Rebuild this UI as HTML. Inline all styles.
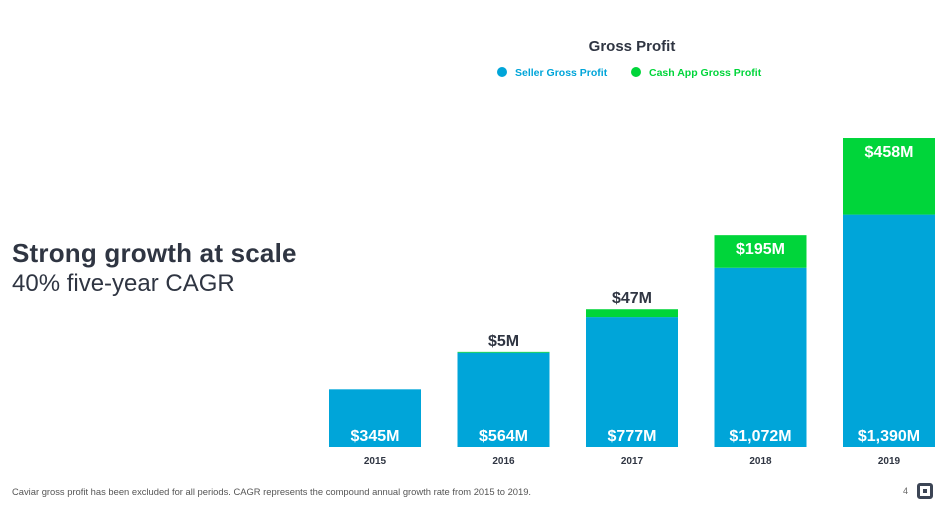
<!DOCTYPE html>
<html><head><meta charset="utf-8"><style>
body{margin:0;width:945px;height:516px;background:#fff;font-family:"Liberation Sans",sans-serif;overflow:hidden;position:relative}
.t{position:absolute;white-space:nowrap}
</style></head><body>
<div class="t" style="left:12px;top:238px;font-size:26px;letter-spacing:0.2px;font-weight:bold;color:#2f3542">Strong growth at scale</div>
<div class="t" style="left:12px;top:270px;font-size:24px;color:#2f3542">40% five-year CAGR</div>
<div class="t" style="left:12px;top:486px;font-size:9.4px;color:#555">Caviar gross profit has been excluded for all periods. CAGR represents the compound annual growth rate from 2015 to 2019.</div>
<div class="t" style="left:903px;top:486px;font-size:9px;color:#666">4</div>
<div style="position:absolute;left:917px;top:483px;width:10px;height:10px;border:3px solid #3c4555;border-radius:3px"><div style="position:absolute;left:3px;top:3px;width:4px;height:4px;background:#3c4555"></div></div>
<svg id="c" width="945" height="516" style="position:absolute;left:0;top:0">
<text x="632" y="51" text-anchor="middle" font-size="15" font-weight="bold" fill="#2f3542">Gross Profit</text>
<g><circle cx="502" cy="72" r="5" fill="#00a5d9"/><text x="515" y="76" font-size="10.5" font-weight="bold" fill="#00a5d9">Seller Gross Profit</text></g>
<g><circle cx="636" cy="72" r="5" fill="#00d53a"/><text x="649" y="76" font-size="10.5" font-weight="bold" fill="#00d53a">Cash App Gross Profit</text></g>
</svg>
<script>
const years=["2015","2016","2017","2018","2019"];
const seller=[345,564,777,1072,1390];
const cash=[0,5,47,195,458];
const sellerLabels=["$345M","$564M","$777M","$1,072M","$1,390M"];
const cashLabels=["","$5M","$47M","$195M","$458M"];
const svg=document.getElementById('c');const NS="http://www.w3.org/2000/svg";
const base=447,k=0.1672,x0=329,step=128.5,bw=92;
const y=v=>base-v*k;
function mk(t,a){const e=document.createElementNS(NS,t);for(const n in a)e.setAttribute(n,a[n]);svg.appendChild(e);return e;}
years.forEach((yr,i)=>{
 const x=x0+i*step;
 const r=mk('rect',{x:x,y:y(seller[i]),width:bw,height:base-y(seller[i]),fill:'#00a5d9'});
 
 
 if(cash[i]>0){const g=mk('rect',{x:x,y:y(seller[i]+cash[i]),width:bw,height:cash[i]*k,fill:'#00d53a'});
 
 }
 const s=mk('text',{x:x+bw/2,y:441,'text-anchor':'middle','font-size':16,'font-weight':'bold',fill:'#fff'});s.textContent=sellerLabels[i];
 
 
 if(cashLabels[i]){const inside=cash[i]*k>25;const ty=inside?y(seller[i]+cash[i])+19:y(seller[i]+cash[i])-6;
 const c=mk('text',{x:x+bw/2,y:ty,'text-anchor':'middle','font-size':16,'font-weight':'bold',fill:inside?'#fff':'#2f3542'});c.textContent=cashLabels[i];
 
 }
 const l=mk('text',{x:x+bw/2,y:464,'text-anchor':'middle','font-size':10,'font-weight':'bold',fill:'#2f3542'});l.textContent=yr;
 
 
});
</script>
</body></html>
